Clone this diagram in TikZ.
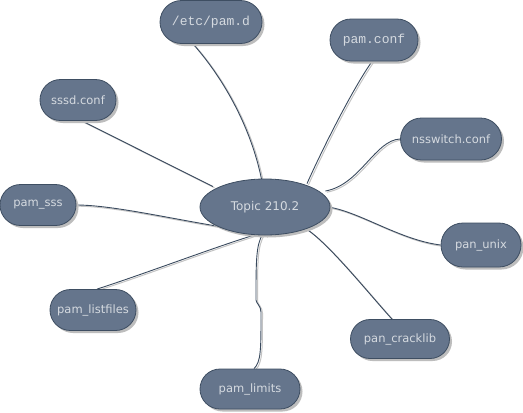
\documentclass[tikz,border=0pt]{standalone}
\usepackage{fontspec}
\setmainfont{DejaVu Sans}
\newfontfamily\monofont{Liberation Mono}
\usetikzlibrary{shapes.misc,shapes.geometric,shadows,backgrounds,calc}
\definecolor{nodefill}{HTML}{65758C}
\definecolor{nodeborder}{HTML}{3E4E62}
\definecolor{nodetext}{HTML}{D5DAE0}
\definecolor{linedark}{HTML}{3A4A5E}
\definecolor{lineshadow}{HTML}{C4C4C4}
\definecolor{shadowgrey}{HTML}{BDBDBD}
\begin{document}
\begin{tikzpicture}[x=1pt,y=-1pt,
  pill/.style={rounded rectangle, draw=nodeborder, line width=0.8pt, fill=nodefill,
    text=nodetext, font=\fontsize{11.5}{13}\selectfont, inner sep=0pt,
    drop shadow={shadow xshift=2.5pt,shadow yshift=-2.5pt,fill=shadowgrey,opacity=1}},
  mono/.style={font=\monofont\fontsize{13}{15}\selectfont},
  topicnode/.style={ellipse, draw=nodeborder, line width=0.8pt, fill=nodefill,
    text=nodetext, font=\fontsize{12}{14}\selectfont, inner sep=0pt,
    minimum width=130pt, minimum height=56pt,
    drop shadow={shadow xshift=2.5pt,shadow yshift=-2.5pt,fill=shadowgrey,opacity=1}},
  conn/.style={draw=linedark, line width=0.9pt,
    preaction={draw=lineshadow, line width=1pt, transform canvas={xshift=1.5pt,yshift=-1.2pt}}}]
\useasboundingbox (0,0) rectangle (523,413);

\node[topicnode] (topic) at (265,207) {Topic 210.2};
\node[pill,mono,minimum width=102pt,minimum height=43pt] (pamd) at (211,22) {/etc/pam.d};
\node[pill,mono,minimum width=88pt,minimum height=42pt] (pamconf) at (374,40) {pam.conf};
\node[pill,minimum width=76pt,minimum height=41pt] (sssd) at (78,100) {sssd.conf};
\node[pill,minimum width=101pt,minimum height=42pt] (nss) at (451,139) {nsswitch.conf};
\node[pill,minimum width=76pt,minimum height=41pt] (pamsss) at (38,205) {pam\_sss};
\node[pill,minimum width=80pt,minimum height=44pt] (panunix) at (481,245) {pan\_unix};
\node[pill,minimum width=86pt,minimum height=41pt] (listfiles) at (93,310) {pam\_listfiles};
\node[pill,minimum width=99pt,minimum height=39pt] (cracklib) at (400,339) {pan\_cracklib};
\node[pill,minimum width=100pt,minimum height=40pt] (limits) at (250,389) {pam\_limits};

\begin{scope}[on background layer]
\fill[white] (0,0) rectangle (523,413);
\draw[conn] ($(pamd.south)+(-18,0)$) .. controls (225,80) and (252,130) .. ($(topic.north)+(-3,3)$);
\draw[conn] ($(pamconf.south)+(-2,0)$) .. controls (352,90) and (322,150) .. ($(topic.north)+(42,5)$);
\draw[conn] ($(sssd.south)+(4,0)$) .. controls (110,135) and (170,165) .. ($(topic.north)+(-52,8)$);
\draw[conn] (nss.west) .. controls (375,140) and (360,185) .. ($(topic.east)+(-5,-16)$);
\draw[conn] (pamsss.east) .. controls (120,205) and (200,226) .. ($(topic.south)+(-3,-3)$);
\draw[conn] ($(listfiles.north)+(4,0)$) .. controls (150,272) and (220,245) .. ($(topic.south)+(-2,-3)$);
\draw[conn] (panunix.west) .. controls (400,240) and (360,212) .. ($(topic.east)+(-2,0)$);
\draw[conn] ($(cracklib.north)+(-8,0)$) .. controls (370,295) and (330,245) .. ($(topic.south)+(42,-6)$);
\draw[conn] ($(topic.south)+(-2,-2)$) .. controls (256,245) and (256,260) .. (256,300)
   .. controls (256,303) and (261,306) .. (261,312)
   .. controls (261,350) and (261,362) .. ($(limits.north)+(4,0)$);
\end{scope}
\end{tikzpicture}
\end{document}
